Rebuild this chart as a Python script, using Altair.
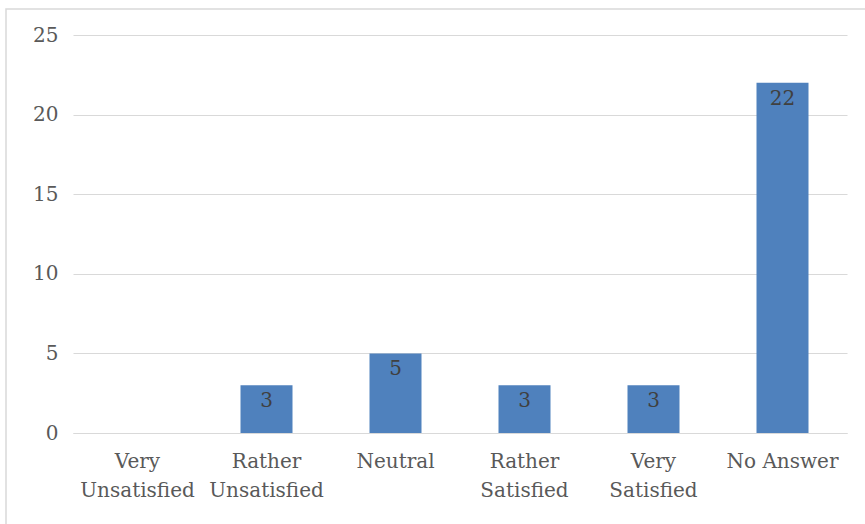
import altair as alt
import pandas as pd

# Survey responses per satisfaction level
categories = ["Very Unsatisfied", "Rather Unsatisfied", "Neutral",
              "Rather Satisfied", "Very Satisfied", "No Answer"]
counts = [0, 3, 5, 3, 3, 22]
y_ticks = [0, 5, 10, 15, 20, 25]

df = pd.DataFrame({"category": categories, "count": counts})

FONT = "DejaVu Serif"
BAR = "#4f81bd"
GRID = "#d9d9d9"

x_enc = alt.X(
    "category:N",
    sort=categories,
    scale=alt.Scale(paddingInner=0, paddingOuter=0),
    axis=alt.Axis(
        title=None,
        labelAngle=0,
        labelFont=FONT,
        labelFontSize=20,
        labelColor="#595959",
        labelPadding=18,
        labelLineHeight=29,
        labelExpr="datum.label == 'No Answer' ? datum.label : split(datum.label, ' ')",
        ticks=False,
        grid=False,
        domain=True,
        domainColor=GRID,
        domainWidth=1,
    ),
)
y_enc = alt.Y(
    "count:Q",
    scale=alt.Scale(domain=[0, 25], nice=False),
    axis=alt.Axis(
        title=None,
        values=y_ticks,
        labelFont=FONT,
        labelFontSize=20,
        labelColor="#595959",
        labelPadding=15,
        ticks=False,
        domain=False,
        grid=True,
        gridColor=GRID,
        gridWidth=1,
    ),
)

# Bars and their value labels share one set of encodings
base = alt.Chart(df).encode(x=x_enc, y=y_enc)

bars = base.mark_bar(color=BAR, size=52)

labels = (
    base.transform_filter("datum.count > 0")
    .mark_text(baseline="top", dy=6, font=FONT, fontSize=20, color="#404040")
    .encode(text="count:Q")
)

# Thin outline framing the chart (left and top edges fall inside the page)
frame = (
    alt.Chart(pd.DataFrame({"f": [0]}))
    .mark_rect(fill=None, stroke=GRID, strokeWidth=1.5)
    .encode(x=alt.value(-67), x2=alt.value(830), y=alt.value(-26), y2=alt.value(520))
)

chart = (
    alt.layer(frame, bars, labels)
    .properties(
        width=774,
        height=398,
        autosize=alt.AutoSizeParams(type="none"),
        padding={"left": 73, "top": 35, "right": 18, "bottom": 91},
        view=alt.ViewBackground(strokeWidth=0),
    )
    .configure_view(strokeWidth=0)
    .configure_axisY(domain=False)
    .configure_axisX(grid=False)
    .configure(background="white")
)

chart.save("out.html", embed_options={"renderer": "svg", "actions": False})
